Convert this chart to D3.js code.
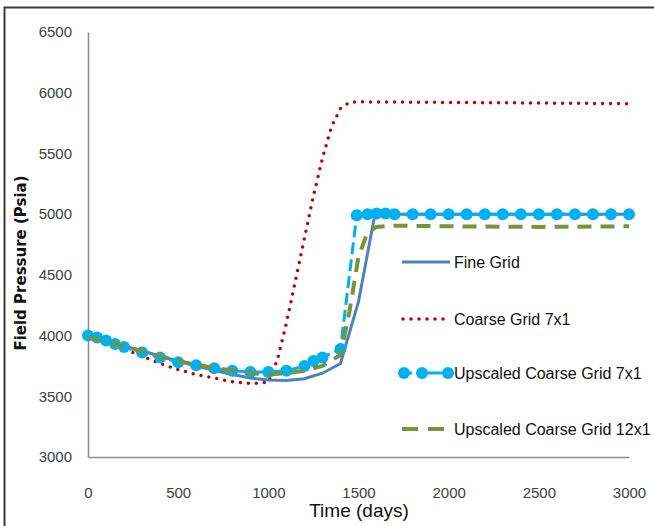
<!DOCTYPE html>
<html>
<head>
<meta charset="utf-8">
<script src="https://cdn.jsdelivr.net/npm/d3@7"></script>
<style>
  body { margin: 0; background: #fff; }
  svg { display: block; }
  .tick text { font-family: "Liberation Sans Narrow", "Liberation Sans", sans-serif; font-size: 15px; fill: #404040; }
</style>
</head>
<body>
<svg width="654" height="526"></svg>
<script>
// time (days) and pressure (psia)
var fineTime = [0, 100, 200, 300, 400, 500, 600, 700, 800, 900, 1000, 1100, 1200, 1300, 1400, 1500, 1590, 1650, 2000, 2500, 3000];
var finePress = [4000, 3960, 3915, 3875, 3830, 3790, 3750, 3715, 3680, 3650, 3635, 3630, 3645, 3690, 3770, 4280, 4990, 5000, 5000, 5000, 5000];

var coarseTime = [0, 100, 200, 300, 400, 500, 600, 700, 800, 900, 1000, 1050, 1100, 1150, 1200, 1250, 1300, 1350, 1400, 1450, 1500, 2000, 2500, 3000];
var coarsePress = [4000, 3950, 3890, 3830, 3770, 3720, 3680, 3650, 3620, 3605, 3615, 3800, 4100, 4450, 4800, 5150, 5460, 5720, 5870, 5920, 5925, 5920, 5915, 5910];

var up7Time = [0, 50, 100, 150, 200, 300, 400, 500, 600, 700, 800, 900, 1000, 1100, 1200, 1250, 1300, 1400, 1490, 1550, 1600, 1650, 1700, 1800, 1900, 2000, 2100, 2200, 2300, 2400, 2500, 2600, 2700, 2800, 2900, 3000];
var up7Press = [4000, 3985, 3960, 3930, 3905, 3860, 3820, 3780, 3755, 3730, 3710, 3700, 3700, 3710, 3750, 3790, 3820, 3890, 4990, 5000, 5005, 5005, 5000, 5000, 5000, 5000, 5000, 5000, 5000, 5000, 5000, 5000, 5000, 5000, 5000, 5000];

var up12Time = [0, 100, 200, 300, 400, 500, 600, 700, 800, 900, 1000, 1100, 1200, 1300, 1400, 1450, 1500, 1550, 1600, 1700, 2000, 2500, 3000];
var up12Press = [3985, 3950, 3910, 3870, 3830, 3790, 3760, 3735, 3710, 3690, 3680, 3690, 3710, 3750, 3840, 4200, 4650, 4850, 4895, 4905, 4900, 4895, 4900];

var seriesNames = ["Fine Grid", "Coarse Grid 7x1", "Upscaled Coarse Grid 7x1", "Upscaled Coarse Grid 12x1"];
var xTicks = [0, 500, 1000, 1500, 2000, 2500, 3000];
var yTicks = [3000, 3500, 4000, 4500, 5000, 5500, 6000, 6500];

var margin = {left: 88, top: 32, right: 25, bottom: 69};
var width = 654;
var height = 526;

var timeScale = d3.scaleLinear().domain([0, 3000]).range([margin.left, width - margin.right]);
var pressScale = d3.scaleLinear().domain([3000, 6500]).range([height - margin.bottom, margin.top]);

function pairs(times, press) {
  return times.map(function (t, i) { return {t: t, p: press[i]}; });
}

var line = d3.line()
  .x(function (d) { return timeScale(d.t); })
  .y(function (d) { return pressScale(d.p); });

var svg = d3.select('svg');

// outer frame (cut off at right and bottom)
svg.append('rect')
  .attr('x', 4.5).attr('y', 7.5)
  .attr('width', 700).attr('height', 600)
  .attr('fill', 'none')
  .attr('stroke', '#3a3a3a')
  .attr('stroke-width', 2);

var axisBottom = d3.axisBottom(timeScale).tickValues(xTicks).tickSize(0).tickPadding(30).tickFormat(d3.format('d'));
var axisLeft = d3.axisLeft(pressScale).tickValues(yTicks).tickSize(0).tickPadding(16).tickFormat(d3.format('d'));

var gx = svg.append('g')
  .attr('transform', 'translate(0,' + (height - margin.bottom) + ')')
  .call(axisBottom);
var gy = svg.append('g')
  .attr('transform', 'translate(' + margin.left + ',0)')
  .call(axisLeft);
gx.select('.domain').attr('stroke', '#8c8c8c').attr('stroke-width', 1.5);
gy.select('.domain').attr('stroke', '#8c8c8c').attr('stroke-width', 1.5);

// coarse grid 7x1 - red dots
svg.append('path')
  .datum(pairs(coarseTime, coarsePress))
  .attr('d', line)
  .attr('fill', 'none')
  .attr('stroke', '#c00000')
  .attr('stroke-width', 3.5)
  .attr('stroke-linecap', 'round')
  .attr('stroke-dasharray', '0,8');

// fine grid - blue solid
svg.append('path')
  .datum(pairs(fineTime, finePress))
  .attr('d', line)
  .attr('fill', 'none')
  .attr('stroke', '#4f81bd')
  .attr('stroke-width', 3);

// upscaled 7x1 - cyan dashes with markers
var up7 = pairs(up7Time, up7Press);
svg.append('path')
  .datum(up7)
  .attr('d', line)
  .attr('fill', 'none')
  .attr('stroke', '#00b0f0')
  .attr('stroke-width', 3)
  .attr('stroke-dasharray', '12,5');

svg.selectAll('circle.up7')
  .data(up7)
  .enter()
  .append('circle')
  .attr('class', 'up7')
  .attr('cx', function (d) { return timeScale(d.t); })
  .attr('cy', function (d) { return pressScale(d.p); })
  .attr('r', 6)
  .attr('fill', '#00b0f0');

// upscaled 12x1 - green dashes
svg.append('path')
  .datum(pairs(up12Time, up12Press))
  .attr('d', line)
  .attr('fill', 'none')
  .attr('stroke', '#77933c')
  .attr('stroke-width', 4)
  .attr('stroke-dasharray', '14,9');

// legend
var legend = svg.append('g').attr('transform', 'translate(402,0)');
var legY = [262, 319, 373, 429];

legend.append('line').attr('x1', 0).attr('x2', 48).attr('y1', legY[0]).attr('y2', legY[0])
  .attr('stroke', '#4f81bd').attr('stroke-width', 3);
legend.append('line').attr('x1', 1).attr('x2', 46).attr('y1', legY[1]).attr('y2', legY[1])
  .attr('stroke', '#c00000').attr('stroke-width', 3.5).attr('stroke-linecap', 'round').attr('stroke-dasharray', '0,8');
legend.append('line').attr('x1', 2).attr('x2', 46).attr('y1', legY[2]).attr('y2', legY[2])
  .attr('stroke', '#00b0f0').attr('stroke-width', 3).attr('stroke-dasharray', '8,6,24');
legend.selectAll('circle')
  .data([2, 20, 46])
  .enter()
  .append('circle')
  .attr('cx', function (d) { return d; })
  .attr('cy', legY[2])
  .attr('r', 6)
  .attr('fill', '#00b0f0');
legend.append('line').attr('x1', 0).attr('x2', 48).attr('y1', legY[3]).attr('y2', legY[3])
  .attr('stroke', '#77933c').attr('stroke-width', 4).attr('stroke-dasharray', '16,10');

legend.selectAll('text')
  .data(seriesNames)
  .enter()
  .append('text')
  .attr('x', 52)
  .attr('y', function (d, i) { return legY[i]; })
  .attr('dy', '0.35em')
  .style('font-family', '"Liberation Sans Narrow", "Liberation Sans", sans-serif')
  .style('font-size', '16px')
  .style('fill', '#111')
  .text(function (d) { return d; });

// text label for the y axis
svg.append('text')
  .attr('transform', 'rotate(-90)')
  .attr('y', 26)
  .attr('x', -263)
  .style('text-anchor', 'middle')
  .style('font-family', '"DejaVu Sans", sans-serif')
  .style('font-weight', 'bold')
  .style('font-size', '15px')
  .style('fill', '#111')
  .text('Field Pressure (Psia)');

// text label for the x axis
svg.append('text')
  .attr('y', 517)
  .attr('x', 359)
  .style('text-anchor', 'middle')
  .style('font-family', '"Liberation Sans Narrow", "Liberation Sans", sans-serif')
  .style('font-size', '19px')
  .style('fill', '#111')
  .text('Time (days)');
</script>
</body>
</html>
